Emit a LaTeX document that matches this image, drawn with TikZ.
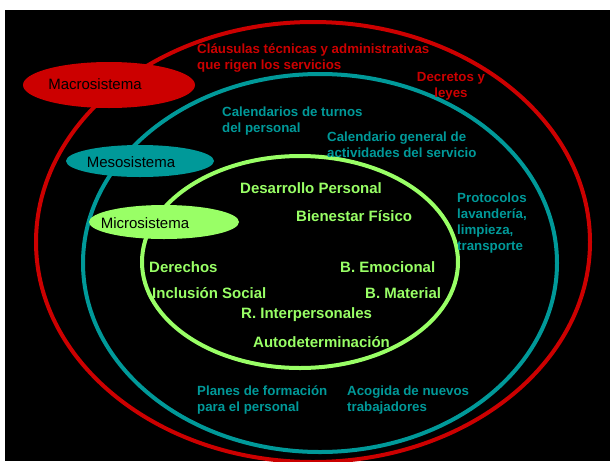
\documentclass[tikz,border=0pt]{standalone}
\usepackage{fontspec}
\setmainfont{Liberation Sans}
\usetikzlibrary{shapes.geometric}
\definecolor{macrored}{HTML}{CC0000}
\definecolor{mesoteal}{HTML}{009999}
\definecolor{microgreen}{HTML}{99FF66}
\tikzset{
  ring/.style={line width=4pt,draw=#1},
  tag/.style={ellipse,fill=#1,inner sep=0pt},
  tagtext/.style={font=\fontsize{15}{18}\selectfont,text=black,inner sep=0pt},
  note/.style={font=\fontsize{13.3}{16}\selectfont\bfseries,text=#1,align=left,
    inner sep=0pt,anchor=north west},
  facet/.style={font=\fontsize{15}{18}\selectfont\bfseries,text=microgreen,
    inner sep=0pt,anchor=west},
}
\begin{document}
\begin{tikzpicture}[x=1pt,y=-1pt]
  \useasboundingbox (0,0) rectangle (610,461);
  \fill[white] (0,0) rectangle (610,461);
  \fill[black] (5,10) rectangle (610,461);
  \begin{scope}
    \clip (5,10) rectangle (610,461);
    % nested systems
    \draw[ring=macrored] (313,242) ellipse [x radius=277,y radius=220];
    \draw[ring=mesoteal] (320,263) ellipse [x radius=237,y radius=189];
    \draw[ring=microgreen] (300,262) ellipse [x radius=158,y radius=106];
  \end{scope}
  % system tags
  \node[tag=macrored,minimum width=172,minimum height=46] (macro) at (109,85) {};
  \node[tagtext] (macrotxt) at (95,84) {Macrosistema};
  \node[tag=mesoteal,minimum width=148,minimum height=32] (meso) at (140,161) {};
  \node[tagtext] (mesotxt) at (131,162) {Mesosistema};
  \node[tag=microgreen,minimum width=150,minimum height=34] (micro) at (164,222) {};
  \node[tagtext] (microtxt) at (145,223) {Microsistema};
  % macro level
  \node[note=macrored] (clausulas) at (197,44) {Cláusulas técnicas y administrativas\\que rigen los servicios};
  \node[note=macrored,align=center,anchor=north] (decretos) at (451,72) {Decretos y\\leyes};
  % meso level
  \node[note=mesoteal] (turnos) at (222,107) {Calendarios de turnos\\del personal};
  \node[note=mesoteal] (calendario) at (327,132) {Calendario general de\\actividades del servicio};
  \node[note=mesoteal] (protocolos) at (457,193) {Protocolos\\lavandería,\\limpieza,\\transporte};
  \node[note=mesoteal] (planes) at (197,386) {Planes de formación\\para el personal};
  \node[note=mesoteal] (acogida) at (347,386) {Acogida de nuevos\\trabajadores};
  % micro level
  \node[facet] (desarrollo) at (240,188) {Desarrollo Personal};
  \node[facet] (bienestar) at (296,216) {Bienestar Físico};
  \node[facet] (derechos) at (149,267) {Derechos};
  \node[facet] (emocional) at (340,267) {B. Emocional};
  \node[facet] (inclusion) at (152,293) {Inclusión Social};
  \node[facet] (material) at (365,293) {B. Material};
  \node[facet] (interpersonales) at (241,315) {R. Interpersonales};
  \node[facet] (autodet) at (253,342) {Autodeterminación};
\end{tikzpicture}
\end{document}
